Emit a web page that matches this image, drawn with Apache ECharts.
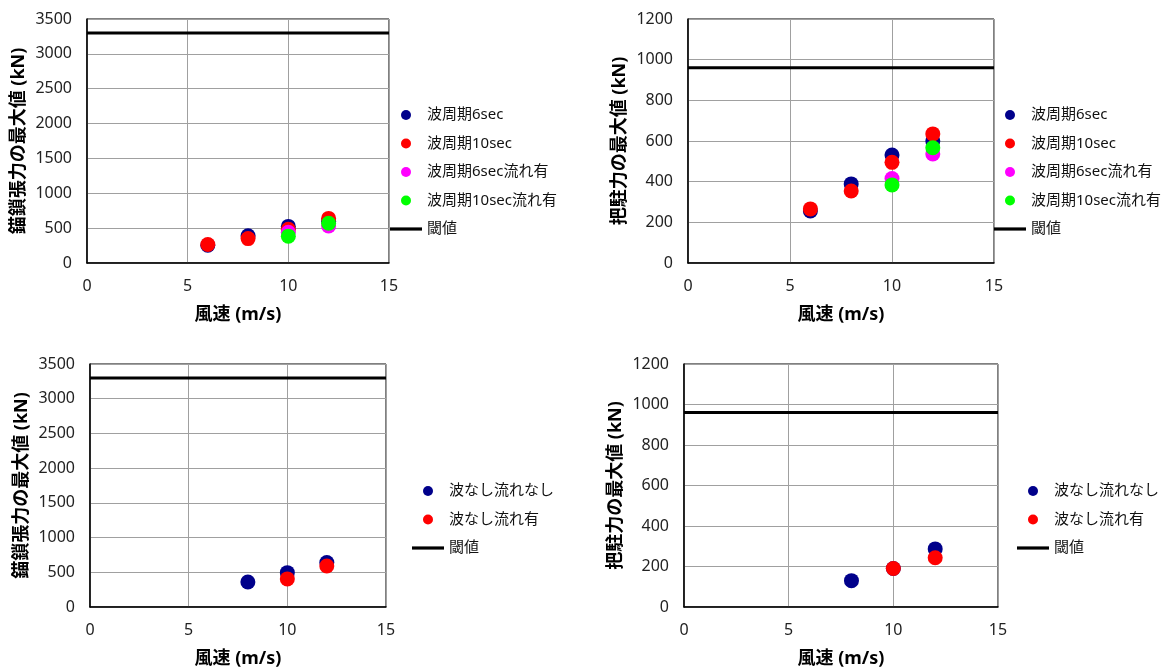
<!DOCTYPE html>
<html>
<head>
<meta charset="utf-8">
<script src="https://cdn.jsdelivr.net/npm/echarts@6/dist/echarts.min.js"></script>
<style>
  html, body { margin: 0; padding: 0; background: #fff; }
  #chart { width: 1162px; height: 669px; }
</style>
</head>
<body>
<div id="chart"></div>
<script>
// Wind speeds (m/s)
const windSpeed = [6, 8, 10, 12];

// Maximum chain tension (kN), wave cases
const tensionT6 = [255, 390, 525, 600];
const tensionT10 = [265, 350, 485, 640];
const tensionT6Current = [null, null, 440, 530];
const tensionT10Current = [null, null, 385, 570];

// Maximum holding force (kN), wave cases
const holdT6 = [256, 389, 531, 600];
const holdT10 = [266, 354, 495, 635];
const holdT6Current = [null, null, 415, 536];
const holdT10Current = [null, null, 384, 567];

// Maximum chain tension / holding force (kN), no-wave cases
const tensionCalm = [null, 360, 495, 640];
const tensionCalmCurrent = [null, null, 405, 590];
const holdCalm = [null, 130, 190, 287];
const holdCalmCurrent = [null, null, 190, 243];

// Allowable limits (kN)
const tensionLimit = 3300;
const holdLimit = 960;

// Axis ranges
const xRange = [0, 15, 5];
const tensionRange = [0, 3500, 500];
const holdRange = [0, 1200, 200];

// Legend names
const nameT6 = '波周期6sec';
const nameT10 = '波周期10sec';
const nameT6C = '波周期6sec流れ有';
const nameT10C = '波周期10sec流れ有';
const nameCalm = '波なし流れなし';
const nameCalmC = '波なし流れ有';
const nameLimit = '閾値';

const COLORS = { navy: '#00008B', red: '#FF0000', magenta: '#FF00FF', green: '#00FF00' };
const FONT = '"Noto Sans", "Noto Sans CJK JP", sans-serif';

const pairs = (ys) => windSpeed.map((x, i) => [x, ys[i]]).filter(p => p[1] !== null);

const grids = [
  { left: 87, top: 19, width: 302, height: 244 },
  { left: 688, top: 19, width: 306, height: 244 },
  { left: 90, top: 364, width: 296, height: 244 },
  { left: 684, top: 364, width: 314, height: 244 }
].map(g => Object.assign({ show: true, borderColor: '#000', borderWidth: 1, backgroundColor: '#fff' }, g));

const xAxes = grids.map((g, i) => ({
  type: 'value', gridIndex: i,
  min: xRange[0], max: xRange[1], interval: xRange[2],
  name: '風速 (m/s)', nameLocation: 'middle', nameGap: 43,
  nameTextStyle: { fontFamily: FONT, fontSize: 18, fontWeight: 'bold', color: '#000' },
  axisLine: { show: true, onZero: false, lineStyle: { color: '#000', width: 1.5 } },
  axisTick: { show: false },
  axisLabel: { margin: 15, fontFamily: FONT, fontSize: 16, color: '#222', formatter: v => String(v) },
  splitLine: { show: true, lineStyle: { color: '#A0A0A0', width: 1 } }
}));

const yNames = ['錨鎖張力の最大値 (kN)', '把駐力の最大値 (kN)', '錨鎖張力の最大値 (kN)', '把駐力の最大値 (kN)'];
const yRanges = [tensionRange, holdRange, tensionRange, holdRange];
const yAxes = grids.map((g, i) => ({
  type: 'value', gridIndex: i,
  min: yRanges[i][0], max: yRanges[i][1], interval: yRanges[i][2],
  name: yNames[i], nameLocation: 'middle', nameGap: 59, nameRotate: 90,
  nameTextStyle: { fontFamily: FONT, fontSize: 18, fontWeight: 'bold', color: '#000' },
  axisLine: { show: true, onZero: false, lineStyle: { color: '#000', width: 1.5 } },
  axisTick: { show: false },
  axisLabel: { margin: 15, fontFamily: FONT, fontSize: 16, color: '#222', formatter: v => String(v) },
  splitLine: { show: true, lineStyle: { color: '#A0A0A0', width: 1 } }
}));

function scatter(name, ys, color, idx) {
  return {
    type: 'scatter', name, xAxisIndex: idx, yAxisIndex: idx,
    data: pairs(ys), symbol: 'circle', symbolSize: 15,
    itemStyle: { color, opacity: 1 }, emphasis: { disabled: true }
  };
}
function limitLine(value, idx) {
  return {
    type: 'line', name: nameLimit, xAxisIndex: idx, yAxisIndex: idx,
    data: [[xRange[0], value], [xRange[1], value]],
    symbol: 'none', lineStyle: { color: '#000', width: 3 }, itemStyle: { color: '#000' },
    z: 1, emphasis: { disabled: true }
  };
}

const series = [
  scatter(nameT6, tensionT6, COLORS.navy, 0),
  scatter(nameT10, tensionT10, COLORS.red, 0),
  scatter(nameT6C, tensionT6Current, COLORS.magenta, 0),
  scatter(nameT10C, tensionT10Current, COLORS.green, 0),
  limitLine(tensionLimit, 0),
  scatter(nameT6, holdT6, COLORS.navy, 1),
  scatter(nameT10, holdT10, COLORS.red, 1),
  scatter(nameT6C, holdT6Current, COLORS.magenta, 1),
  scatter(nameT10C, holdT10Current, COLORS.green, 1),
  limitLine(holdLimit, 1),
  scatter(nameCalm, tensionCalm, COLORS.navy, 2),
  scatter(nameCalmC, tensionCalmCurrent, COLORS.red, 2),
  limitLine(tensionLimit, 2),
  scatter(nameCalm, holdCalm, COLORS.navy, 3),
  scatter(nameCalmC, holdCalmCurrent, COLORS.red, 3),
  limitLine(holdLimit, 3)
];

const lineIcon = 'path://M0 0H40V4H0Z';
function legend(names, left, top) {
  return {
    left, top, orient: 'vertical', padding: 0,
    itemWidth: 32, itemHeight: 10, itemGap: 12.5,
    selectedMode: false,
    textStyle: { fontFamily: FONT, fontSize: 15, color: '#111', lineHeight: 16 },
    data: names.map(n => n === nameLimit ? { name: n, icon: lineIcon } : { name: n, icon: 'circle' })
  };
}

const option = {
  backgroundColor: '#fff',
  animation: false,
  grid: grids,
  xAxis: xAxes,
  yAxis: yAxes,
  legend: [
    legend([nameT6, nameT10, nameT6C, nameT10C, nameLimit], 390, 107),
    legend([nameT6, nameT10, nameT6C, nameT10C, nameLimit], 994, 107),
    legend([nameCalm, nameCalmC, nameLimit], 412, 483),
    legend([nameCalm, nameCalmC, nameLimit], 1017, 483)
  ],
  series
};

const chart = echarts.init(document.getElementById('chart'), null, { renderer: 'canvas' });
chart.setOption(option);
</script>
</body>
</html>
